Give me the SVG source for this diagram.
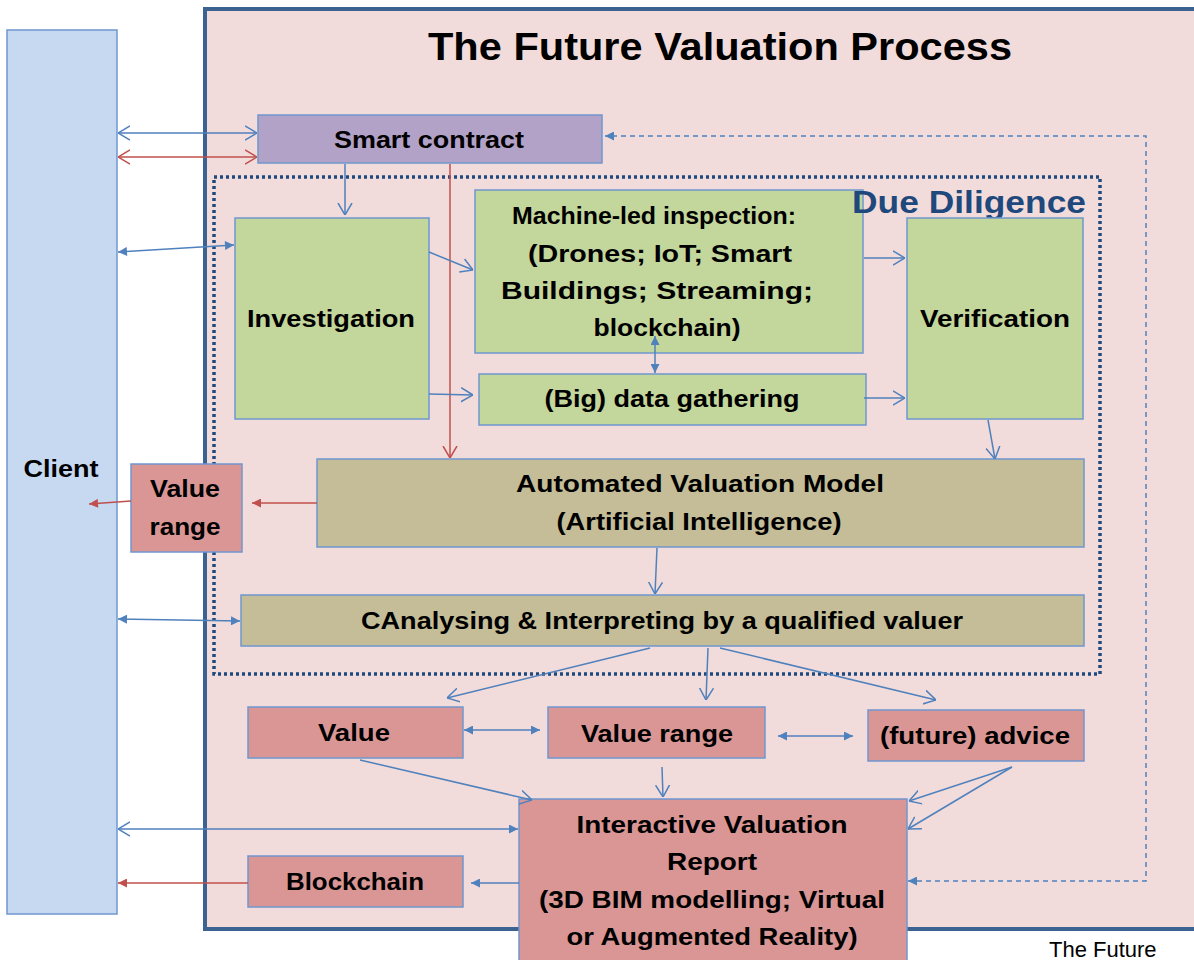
<svg xmlns="http://www.w3.org/2000/svg" width="1194" height="960" viewBox="0 0 1194 960">
<style>
.lbl{font-family:"Liberation Sans",Arial,sans-serif;font-weight:bold;font-size:24px;fill:#000;text-anchor:middle}
.box{stroke:#6f97cf;stroke-width:1.5}
.green{fill:#c3d69b}
.tan{fill:#c4bd97}
.pink{fill:#d99694}
.bl{stroke:#4f81bd;stroke-width:1.5;fill:none}
.rd{stroke:#c0504d;stroke-width:1.5;fill:none}
</style>
<defs>
<marker id="ob" viewBox="0 0 12 16" refX="12" refY="8" markerWidth="12" markerHeight="16" markerUnits="userSpaceOnUse" orient="auto-start-reverse"><path d="M0,1 L12,8 L0,15" fill="none" stroke="#4f81bd" stroke-width="1.5"/></marker>
<marker id="or" viewBox="0 0 12 16" refX="12" refY="8" markerWidth="12" markerHeight="16" markerUnits="userSpaceOnUse" orient="auto-start-reverse"><path d="M0,1 L12,8 L0,15" fill="none" stroke="#c0504d" stroke-width="1.5"/></marker>
<marker id="fb" viewBox="0 0 10 10" refX="10" refY="5" markerWidth="10" markerHeight="9" markerUnits="userSpaceOnUse" orient="auto-start-reverse"><path d="M0,0 L10,5 L0,10 z" fill="#4f81bd"/></marker>
<marker id="fr" viewBox="0 0 10 10" refX="10" refY="5" markerWidth="10" markerHeight="9" markerUnits="userSpaceOnUse" orient="auto-start-reverse"><path d="M0,0 L10,5 L0,10 z" fill="#c0504d"/></marker>
</defs>
<rect width="1194" height="960" fill="#ffffff"/>

<g id="client">
<rect x="7" y="30" width="110" height="884" fill="#c6d9f1" stroke="#6f97cf" stroke-width="1.5"/>
<text class="lbl" x="61" y="477" textLength="75" lengthAdjust="spacingAndGlyphs">Client</text>
</g>

<g id="process-frame">
<rect x="205" y="9" width="1010" height="920" fill="#f2dcdb" stroke="#3b6290" stroke-width="4"/>
<text class="lbl" x="720" y="60" style="font-size:38px" textLength="584" lengthAdjust="spacingAndGlyphs">The Future Valuation Process</text>
</g>

<g id="due-diligence-border">
<rect x="214" y="177" width="886" height="497" fill="none" stroke="#1f497d" stroke-width="3.5" stroke-dasharray="3 3"/>
</g>

<g id="smart-contract">
<rect class="box" x="258" y="115" width="344" height="48" fill="#b3a2c7"/>
<text class="lbl" x="429" y="148" textLength="190" lengthAdjust="spacingAndGlyphs">Smart contract</text>
</g>

<g id="investigation">
<rect class="box green" x="235" y="218" width="194" height="201"/>
<text class="lbl" x="331" y="327" textLength="168" lengthAdjust="spacingAndGlyphs">Investigation</text>
</g>

<g id="machine-led">
<rect class="box green" x="475" y="190" width="388" height="163"/>
<text class="lbl" x="654" y="224" textLength="284" lengthAdjust="spacingAndGlyphs">Machine-led inspection:</text>
<text class="lbl" x="660" y="262" textLength="264" lengthAdjust="spacingAndGlyphs">(Drones; IoT; Smart</text>
<text class="lbl" x="657" y="299" textLength="312" lengthAdjust="spacingAndGlyphs">Buildings; Streaming;</text>
<text class="lbl" x="667" y="336" textLength="147" lengthAdjust="spacingAndGlyphs">blockchain)</text>
</g>

<g id="due-diligence-label">
<text class="lbl" x="969" y="213" style="font-size:32px;fill:#1f497d" textLength="234" lengthAdjust="spacingAndGlyphs">Due Diligence</text>
</g>

<g id="verification">
<rect class="box green" x="907" y="218" width="176" height="201"/>
<text class="lbl" x="995" y="327" textLength="150" lengthAdjust="spacingAndGlyphs">Verification</text>
</g>

<g id="big-data">
<rect class="box green" x="479" y="374" width="387" height="51"/>
<text class="lbl" x="672" y="407" textLength="255" lengthAdjust="spacingAndGlyphs">(Big) data gathering</text>
</g>

<g id="avm">
<rect class="box tan" x="317" y="459" width="767" height="88"/>
<text class="lbl" x="700" y="492" textLength="368" lengthAdjust="spacingAndGlyphs">Automated Valuation Model</text>
<text class="lbl" x="699" y="530" textLength="285" lengthAdjust="spacingAndGlyphs">(Artificial Intelligence)</text>
</g>

<g id="value-range-left">
<rect class="box pink" x="131" y="464" width="111" height="88"/>
<text class="lbl" x="185" y="497" textLength="70" lengthAdjust="spacingAndGlyphs">Value</text>
<text class="lbl" x="185" y="535" textLength="71" lengthAdjust="spacingAndGlyphs">range</text>
</g>

<g id="analysing">
<rect class="box tan" x="241" y="595" width="843" height="51"/>
<text class="lbl" x="662" y="629" textLength="602" lengthAdjust="spacingAndGlyphs">CAnalysing &amp; Interpreting by a qualified valuer</text>
</g>

<g id="value">
<rect class="box pink" x="248" y="707" width="215" height="51"/>
<text class="lbl" x="354" y="741" textLength="72" lengthAdjust="spacingAndGlyphs">Value</text>
</g>

<g id="value-range">
<rect class="box pink" x="548" y="707" width="217" height="51"/>
<text class="lbl" x="657" y="742" textLength="152" lengthAdjust="spacingAndGlyphs">Value range</text>
</g>

<g id="future-advice">
<rect class="box pink" x="868" y="710" width="216" height="51"/>
<text class="lbl" x="975" y="744" textLength="190" lengthAdjust="spacingAndGlyphs">(future) advice</text>
</g>

<g id="report">
<rect class="box pink" x="519" y="799" width="388" height="180"/>
<text class="lbl" x="712" y="833" textLength="271" lengthAdjust="spacingAndGlyphs">Interactive Valuation</text>
<text class="lbl" x="712" y="870" textLength="90" lengthAdjust="spacingAndGlyphs">Report</text>
<text class="lbl" x="712" y="908" textLength="346" lengthAdjust="spacingAndGlyphs">(3D BIM modelling; Virtual</text>
<text class="lbl" x="712" y="945" textLength="291" lengthAdjust="spacingAndGlyphs">or Augmented Reality)</text>
</g>

<g id="blockchain">
<rect class="box pink" x="248" y="856" width="215" height="51"/>
<text class="lbl" x="355" y="890" textLength="138" lengthAdjust="spacingAndGlyphs">Blockchain</text>
</g>

<g id="connectors">
<path class="bl" d="M118,133 H257" marker-start="url(#ob)" marker-end="url(#ob)"/>
<path class="rd" d="M118,157 H257" marker-start="url(#or)" marker-end="url(#or)"/>
<path class="bl" d="M345,164 V215" marker-end="url(#ob)"/>
<path class="rd" d="M450,164 V458" marker-end="url(#or)"/>
<path class="bl" d="M118,252 L234,245" marker-start="url(#fb)" marker-end="url(#fb)"/>
<path class="bl" d="M429,252 L473,270" marker-end="url(#ob)"/>
<path class="bl" d="M429,394 L473,395" marker-end="url(#ob)"/>
<path class="bl" d="M655,336 V373" marker-start="url(#fb)" marker-end="url(#fb)"/>
<path class="bl" d="M864,258 H905" marker-end="url(#ob)"/>
<path class="bl" d="M864,398 H905" marker-end="url(#ob)"/>
<path class="bl" d="M988,420 L995,459" marker-end="url(#ob)"/>
<path class="rd" d="M317,503 H252" marker-end="url(#fr)"/>
<path class="rd" d="M131,501 L89,504" marker-end="url(#fr)"/>
<path class="bl" d="M657,548 L655,594" marker-end="url(#ob)"/>
<path class="bl" d="M118,619 L240,621" marker-start="url(#fb)" marker-end="url(#fb)"/>
<path class="bl" d="M650,648 L447,698" marker-end="url(#ob)"/>
<path class="bl" d="M708,648 L706,700" marker-end="url(#ob)"/>
<path class="bl" d="M720,648 L936,700" marker-end="url(#ob)"/>
<path class="bl" d="M464,730 H540" marker-start="url(#fb)" marker-end="url(#fb)"/>
<path class="bl" d="M778,736 H853" marker-start="url(#fb)" marker-end="url(#fb)"/>
<path class="bl" d="M360,760 L532,800" marker-end="url(#ob)"/>
<path class="bl" d="M662,767 L663,797" marker-end="url(#ob)"/>
<path class="bl" d="M1012,767 L909,801" marker-end="url(#ob)"/>
<path class="bl" d="M1012,767 L908,829" marker-end="url(#ob)"/>
<path class="bl" d="M118,829 H518" marker-start="url(#ob)" marker-end="url(#fb)"/>
<path class="bl" d="M519,883 H471" marker-end="url(#fb)"/>
<path class="rd" d="M248,883 H118" marker-end="url(#fr)"/>
<path class="bl" d="M908,881 H1146 V136 H605" stroke-dasharray="5 4" stroke-width="1.3" marker-start="url(#fb)" marker-end="url(#fb)"/>
</g>

<text x="1049" y="957" style="font-family:'Liberation Sans',Arial,sans-serif;font-size:22px;fill:#000">The Future</text>
</svg>
